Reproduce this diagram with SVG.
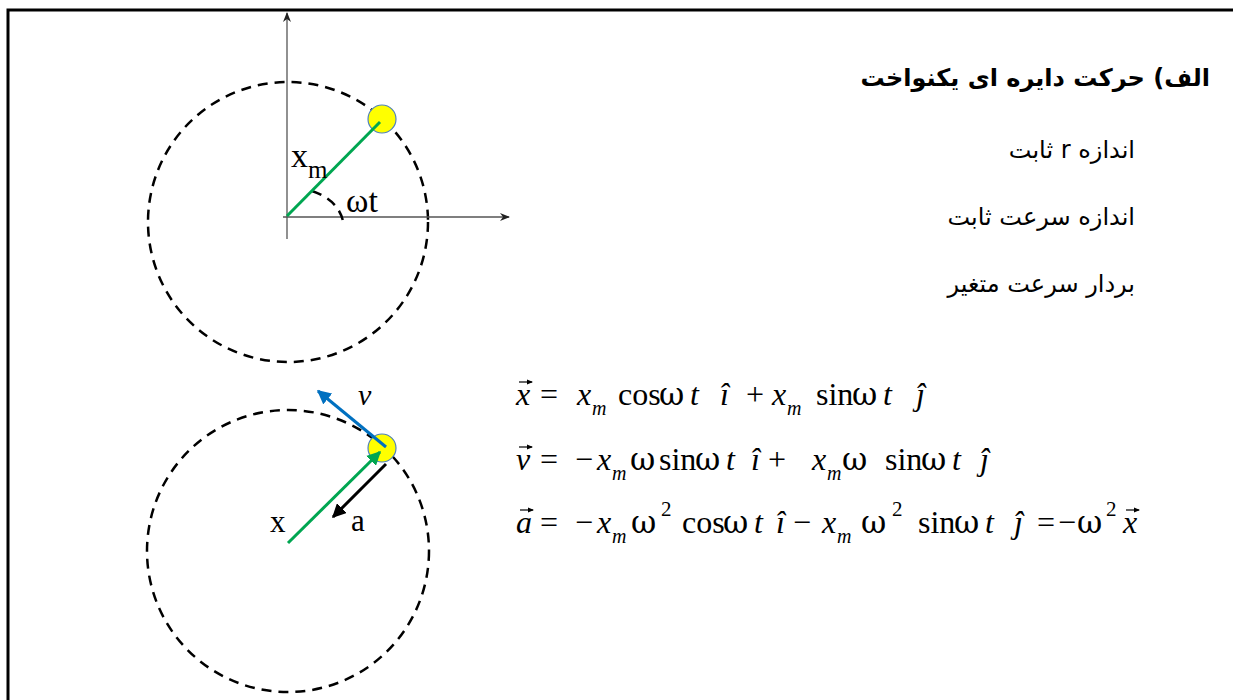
<svg xmlns="http://www.w3.org/2000/svg" width="1233" height="700" viewBox="0 0 1233 700">
<defs>
<style>
.frame{stroke:#000;stroke-width:3;fill:none}
.axis{stroke:#555;stroke-width:1.3;fill:none}
.dash{stroke:#000;stroke-width:2.5;fill:none;stroke-dasharray:10 7}
.ball{fill:#ffff00;stroke:#4f81bd;stroke-width:1.2}
.lbl{font-family:"Liberation Serif","Times New Roman",serif;fill:#000}
.eq{font-family:"Liberation Serif","Times New Roman",serif;font-size:32px;fill:#000}
.it{font-style:italic}
.w{font-family:"DejaVu Serif","Liberation Serif",serif;font-size:31px}
.sub{font-size:20px;font-style:italic}
.sup{font-size:21px}
.vec{stroke:#000;stroke-width:1.2;fill:none}
.fa{font-family:"DejaVu Sans","Noto Sans",sans-serif;font-size:24px;fill:#000}
</style>
<marker id="axarrow" viewBox="0 0 10 8" refX="9" refY="4" markerWidth="10" markerHeight="8" markerUnits="userSpaceOnUse" orient="auto">
<path d="M0,0 L10,4 L0,8 L3,4 z" fill="#222"/>
</marker>
<marker id="ag" viewBox="0 0 10 10" refX="9" refY="5" markerWidth="14" markerHeight="14" markerUnits="userSpaceOnUse" orient="auto">
<path d="M0,0 L10,5 L0,10 z" fill="#00a651"/>
</marker>
<marker id="ab" viewBox="0 0 10 10" refX="9" refY="5" markerWidth="14" markerHeight="14" markerUnits="userSpaceOnUse" orient="auto">
<path d="M0,0 L10,5 L0,10 z" fill="#0070c0"/>
</marker>
<marker id="ak" viewBox="0 0 10 10" refX="9" refY="5" markerWidth="14" markerHeight="14" markerUnits="userSpaceOnUse" orient="auto">
<path d="M0,0 L10,5 L0,10 z" fill="#000"/>
</marker>
<marker id="va" viewBox="0 0 6 6" refX="5" refY="3" markerWidth="6" markerHeight="6" markerUnits="userSpaceOnUse" orient="auto">
<path d="M0,0.5 L6,3 L0,5.5 z" fill="#000"/>
</marker>
</defs>
<rect width="1233" height="700" fill="#fff"/>
<g id="frame">
<path class="frame" d="M8,700 L8,10 L1233,10"/>
</g>

<g id="top-diagram">
<circle class="dash" cx="288" cy="222" r="140"/>
<line class="axis" x1="287" y1="239" x2="287" y2="13" marker-end="url(#axarrow)"/>
<line class="axis" x1="283" y1="217" x2="509" y2="217" marker-end="url(#axarrow)"/>
<path class="dash" d="M312,191 Q338,200 343,221" stroke-dasharray="6 4"/>
<circle class="ball" cx="382" cy="119" r="14"/>
<line x1="287" y1="216" x2="380" y2="122" stroke="#00a651" stroke-width="3"/>
<text class="lbl" x="291" y="167" font-size="34">x</text>
<text class="lbl" x="308" y="178" font-size="25">m</text>
<text class="lbl" x="346" y="212" font-size="34">ωt</text>
</g>

<g id="bottom-diagram">
<circle class="dash" cx="288" cy="551" r="141"/>
<circle class="ball" cx="382" cy="448" r="14"/>
<line x1="288" y1="543" x2="380" y2="452" stroke="#00a651" stroke-width="3" marker-end="url(#ag)"/>
<line x1="386" y1="447" x2="318" y2="391" stroke="#0070c0" stroke-width="3" marker-end="url(#ab)"/>
<line x1="386" y1="464" x2="333" y2="517" stroke="#000" stroke-width="3" marker-end="url(#ak)"/>
<text class="lbl it" x="358" y="405" font-size="30">v</text>
<text class="lbl" x="270" y="532" font-size="31">x</text>
<text class="lbl" x="351" y="531" font-size="31">a</text>
</g>

<g id="persian-text">
<text class="fa" x="1210" y="86" direction="rtl" font-weight="bold" font-size="23">الف) حرکت دایره ای یکنواخت</text>
<text class="fa" x="1135" y="158" direction="rtl" font-size="26">اندازه r ثابت</text>
<text class="fa" x="1135" y="225" direction="rtl" font-size="26">اندازه سرعت ثابت</text>
<text class="fa" x="1135" y="292" direction="rtl" font-size="26">بردار سرعت متغیر</text>
</g>

<g id="equations">
<text class="eq"><tspan class="it" x="516" y="405">x</tspan><tspan x="540" y="405">=</tspan><tspan class="it" x="577" y="405">x</tspan><tspan class="sub" x="592" y="415">m</tspan><tspan x="618" y="405">cos</tspan><tspan class="w" x="659" y="405">ω</tspan><tspan class="it" x="690" y="405">t</tspan><tspan class="it" x="720" y="405">î</tspan><tspan x="746" y="405">+</tspan><tspan class="it" x="772" y="405">x</tspan><tspan class="sub" x="787" y="415">m</tspan><tspan x="816" y="405">sin</tspan><tspan class="w" x="852" y="405">ω</tspan><tspan class="it" x="883" y="405">t</tspan><tspan class="it" x="916" y="405">ĵ</tspan></text>
<text class="eq"><tspan class="it" x="516" y="470">v</tspan><tspan x="540" y="470">=</tspan><tspan x="575" y="470">−</tspan><tspan class="it" x="597" y="470">x</tspan><tspan class="sub" x="612" y="480">m</tspan><tspan class="w" x="630" y="470">ω</tspan><tspan x="659" y="470">sin</tspan><tspan class="w" x="695" y="470">ω</tspan><tspan class="it" x="726" y="470">t</tspan><tspan class="it" x="751" y="470">î</tspan><tspan x="768" y="470">+</tspan><tspan class="it" x="812" y="470">x</tspan><tspan class="sub" x="827" y="480">m</tspan><tspan class="w" x="842" y="470">ω</tspan><tspan x="885" y="470">sin</tspan><tspan class="w" x="921" y="470">ω</tspan><tspan class="it" x="952" y="470">t</tspan><tspan class="it" x="980" y="470">ĵ</tspan></text>
<text class="eq"><tspan class="it" x="516" y="533">a</tspan><tspan x="540" y="533">=</tspan><tspan x="575" y="533">−</tspan><tspan class="it" x="597" y="533">x</tspan><tspan class="sub" x="612" y="543">m</tspan><tspan class="w" x="631" y="533">ω</tspan><tspan class="sup" x="661" y="516">2</tspan><tspan x="682" y="533">cos</tspan><tspan class="w" x="723" y="533">ω</tspan><tspan class="it" x="754" y="533">t</tspan><tspan class="it" x="776" y="533">î</tspan><tspan x="793" y="533">−</tspan><tspan class="it" x="822" y="533">x</tspan><tspan class="sub" x="837" y="543">m</tspan><tspan class="w" x="861" y="533">ω</tspan><tspan class="sup" x="892" y="516">2</tspan><tspan x="918" y="533">sin</tspan><tspan class="w" x="954" y="533">ω</tspan><tspan class="it" x="985" y="533">t</tspan><tspan class="it" x="1014" y="533">ĵ</tspan><tspan x="1037" y="533">=</tspan><tspan x="1058" y="533">−</tspan><tspan class="w" x="1077" y="533">ω</tspan><tspan class="sup" x="1106" y="516">2</tspan><tspan class="it" x="1123" y="533">x</tspan></text>
<path class="vec" d="M519,382 L532,382" marker-end="url(#va)"/>
<path class="vec" d="M519,447 L532,447" marker-end="url(#va)"/>
<path class="vec" d="M520,510 L533,510" marker-end="url(#va)"/>
<path class="vec" d="M1126,510 L1139,510" marker-end="url(#va)"/>
</g>
</svg>
